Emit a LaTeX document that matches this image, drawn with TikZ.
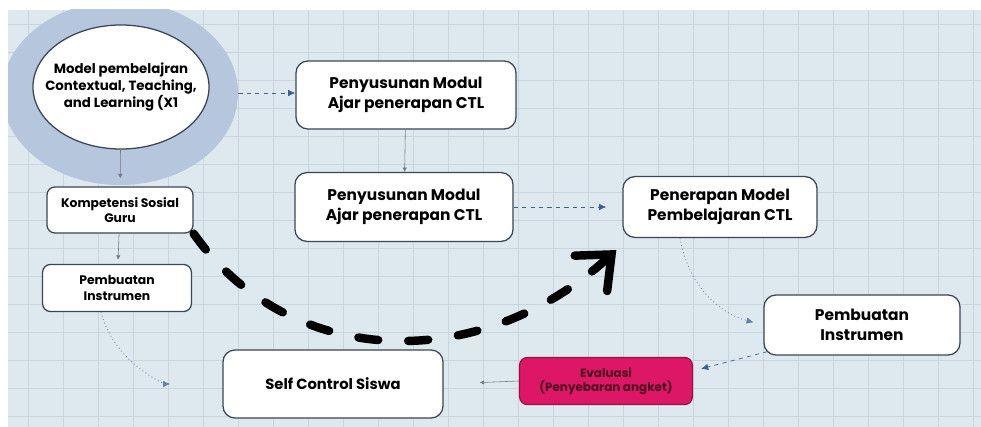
\documentclass[tikz,border=0pt]{standalone}
\usepackage{fontspec}
\setmainfont{Poppins}
\usetikzlibrary{arrows.meta,positioning,calc,shapes.geometric}
\definecolor{paper}{HTML}{DDE8EF}
\definecolor{gridline}{HTML}{C8D5DE}
\definecolor{halo}{HTML}{B6C6DC}
\definecolor{edge}{HTML}{3A4556}
\definecolor{linkblue}{HTML}{3D5E9A}
\definecolor{evalpink}{HTML}{DD1766}
\definecolor{evaltext}{HTML}{4A0A1E}

\begin{document}
\begin{tikzpicture}[
  x=0.025cm,y=-0.025cm,
  box/.style={draw=edge,fill=white,rounded corners=3mm,line width=0.9pt,align=center,inner sep=0pt,font=\bfseries\fontsize{11}{14}\selectfont},
  smallbox/.style={box,rounded corners=2mm,font=\bfseries\fontsize{8.8}{11}\selectfont},
  link/.style={-{Latex[length=1.8mm,width=1.6mm]},linkblue,dashed,line width=0.5pt},
  dotlink/.style={-{Latex[length=1.8mm,width=1.6mm]},linkblue!80,dotted,line width=0.6pt},
  thinlink/.style={-{Latex[length=1.1mm,width=1.1mm]},gray!80!linkblue,line width=0.4pt},
  bigflow/.style={-{Straight Barb[length=7mm 0,width=12mm 0,line cap=round]},line width=6pt,line cap=round,dash pattern=on 0.5cm off 0.75cm}
]
  % paper with grid
  \useasboundingbox (0,0) rectangle (981,427);
  \fill[white] (0,0) rectangle (981,427);
  \begin{scope}
    \clip (8,10) rectangle (981,427);
    \fill[paper] (8,10) rectangle (981,427);
    \foreach \gx in {28,63,...,981} \draw[gridline] (\gx,10) -- (\gx,427);
    \foreach \gy in {24,52,...,427} \draw[gridline] (8,\gy) -- (981,\gy);
    \node[ellipse,fill=halo,minimum width=5.9cm,minimum height=4.6cm] (halo) at (120,93) {};
  \end{scope}

  \node[ellipse,draw=edge,fill=white,line width=0.9pt,minimum width=4.4cm,minimum height=3.1cm,inner xsep=-1cm,inner ysep=-0.5cm,align=center,font=\bfseries\fontsize{9.5}{12}\selectfont] (model) at (121,87) {Model pembelajran\\Contextual, Teaching,\\and Learning (X1};
  \node[box,minimum width=5.5cm,minimum height=1.7cm] (modul1) at (406,95) {Penyusunan Modul\\Ajar penerapan CTL};
  \node[box,minimum width=5.45cm,minimum height=1.72cm] (modul2) at (404,207) {Penyusunan Modul\\Ajar penerapan CTL};
  \node[box,minimum width=4.85cm,minimum height=1.52cm] (terap) at (720,207) {Penerapan Model\\Pembelajaran CTL};
  \node[box,minimum width=4.9cm,minimum height=1.5cm] (instr) at (862,325) {Pembuatan\\Instrumen};
  \node[box,draw=evalpink!70!black,fill=evalpink,text=evaltext,rounded corners=2mm,minimum width=4.32cm,minimum height=1.18cm,font=\bfseries\fontsize{8.5}{10}\selectfont] (eval) at (606,381) {Evaluasi\\(Penyebaran angket)};
  \node[box,minimum width=5.5cm,minimum height=1.7cm,font=\bfseries\fontsize{10.5}{13}\selectfont] (self) at (333,384) {Self Control Siswa};
  \node[smallbox,minimum width=3.65cm,minimum height=1.15cm] (komp) at (120,210) {Kompetensi Sosial\\Guru};
  \node[smallbox,minimum width=3.72cm,minimum height=1.18cm] (buat) at (117,288) {Pembuatan\\Instrumen};

  \draw[link] (halo.east) -- (halo.east -| modul1.west);
  \draw[thinlink] (modul1) -- (modul2);
  \draw[link,shorten >=4mm] (modul2.east) -- (modul2.east -| terap.west);
  \draw[thinlink,shorten >=2mm] (model) -- (komp);
  \draw[thinlink,shorten >=1mm] (komp) -- (buat);
  \draw[dotlink,shorten >=1.3cm] ([xshift=-4mm]buat.south) to[out=-75,in=180] (self.west);
  \draw[dotlink,shorten >=2.5mm] ([xshift=-1cm]terap.south) to[out=-80,in=165] (instr.west);
  \draw[link] ([xshift=1mm,yshift=1mm]instr.south west) -- ([xshift=2mm,yshift=-3mm]eval.north east);
  \draw[thinlink,shorten >=9mm] (eval.west) -- (self.east);

  % the big black flow
  \draw[bigflow] (komp.south east) .. controls (290,370) and (480,375) .. ([xshift=-1.5mm,yshift=-3mm]terap.south west);
\end{tikzpicture}
\end{document}
